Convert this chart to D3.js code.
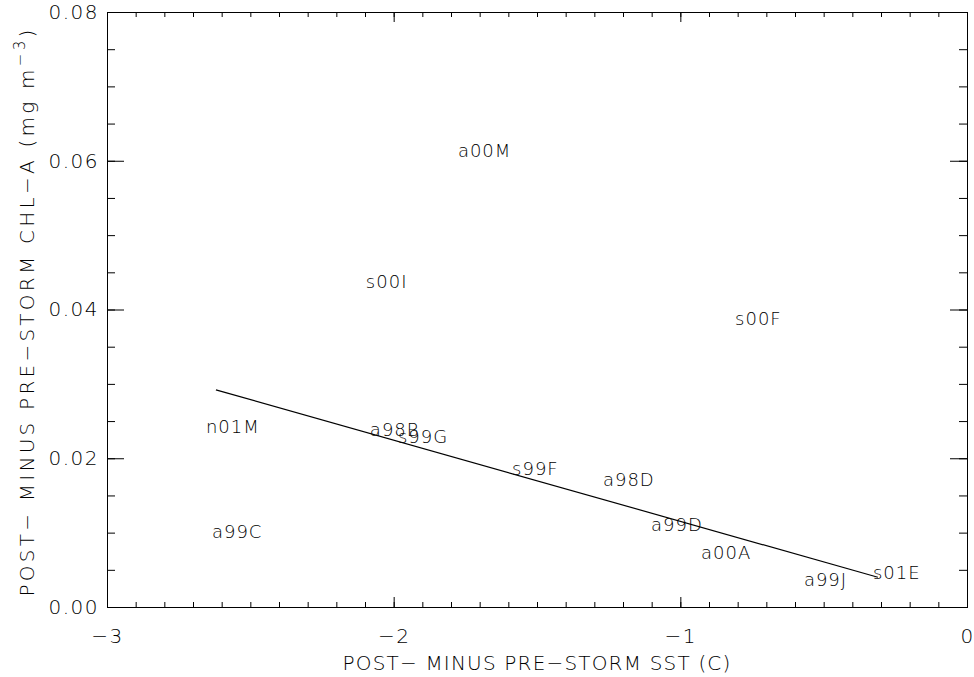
<!DOCTYPE html>
<html>
<head>
<meta charset="utf-8">
<script src="https://cdn.jsdelivr.net/npm/d3@7"></script>
<style>
  html, body { margin: 0; padding: 0; background: #fff; }
  svg { display: block; }
  text { font-family: "DejaVu Sans", "Liberation Sans", sans-serif; font-weight: 200; fill: #000; }
</style>
</head>
<body>
<div id="chart"></div>
<script>
// ---- data ----
const stormNames = ["a00M", "s00I", "s00F", "n01M", "a98B", "s99G", "a99C", "s99F", "a98D", "a99D", "a00A", "a99J", "s01E"];
const sstChange  = [-1.776, -2.097, -0.809, -2.655, -2.083, -1.985, -2.634, -1.587, -1.270, -1.102, -0.928, -0.569, -0.328];
const chlChange  = [0.0605, 0.0429, 0.0379, 0.0234, 0.0230, 0.0221, 0.0093, 0.0178, 0.0163, 0.0102, 0.0065, 0.0028, 0.0038];
const fitLineX   = [-2.620, -0.311];
const fitLineY   = [0.0292, 0.0040];
const xMajorTicks = [-3, -2, -1, 0];
const yMajorTicks = [0, 0.02, 0.04, 0.06, 0.08];

// ---- layout ----
const W = 974, H = 677;
const mLeft = 107, mRight = 967, mTop = 12, mBottom = 607;

const svg = d3.select("#chart").append("svg").attr("width", W).attr("height", H);

const x = d3.scaleLinear().domain([-3, 0]).range([mLeft, mRight]);
const y = d3.scaleLinear().domain([0, 0.08]).range([mBottom, mTop]);

const xMinor = d3.range(-3, 0.0001, 0.1).map(v => +v.toFixed(2));
const yMinor = d3.range(0, 0.08001, 0.005).map(v => +v.toFixed(4));

function styleAxis(g) {
  g.selectAll("path.domain").attr("stroke", "#000").attr("stroke-width", 1);
  g.selectAll(".tick line").attr("stroke", "#000").attr("stroke-width", 1);
  g.selectAll("text").attr("font-size", 20).attr("font-family", null).attr("letter-spacing", 1.5);
}

// bottom axis
svg.append("g").attr("transform", `translate(0,${mBottom})`)
  .call(d3.axisBottom(x).tickValues(xMinor).tickSize(-5).tickFormat(""))
  .call(styleAxis);
svg.append("g").attr("transform", `translate(0,${mBottom})`)
  .call(d3.axisBottom(x).tickValues(xMajorTicks).tickSize(-10).tickPadding(22).tickFormat(d3.format("d")))
  .call(styleAxis);
// top axis
svg.append("g").attr("transform", `translate(0,${mTop})`)
  .call(d3.axisTop(x).tickValues(xMinor).tickSize(-5).tickFormat(""))
  .call(styleAxis);
svg.append("g").attr("transform", `translate(0,${mTop})`)
  .call(d3.axisTop(x).tickValues(xMajorTicks).tickSize(-10).tickFormat(""))
  .call(styleAxis);
// left axis
svg.append("g").attr("transform", `translate(${mLeft},0)`)
  .call(d3.axisLeft(y).tickValues(yMinor).tickSize(-8).tickFormat(""))
  .call(styleAxis);
const yAxisG = svg.append("g").attr("transform", `translate(${mLeft},0)`)
  .call(d3.axisLeft(y).tickValues(yMajorTicks).tickSize(-17).tickPadding(8).tickFormat(d3.format(".2f")))
  .call(styleAxis);
// right axis
svg.append("g").attr("transform", `translate(${mRight},0)`)
  .call(d3.axisRight(y).tickValues(yMinor).tickSize(-8).tickFormat(""))
  .call(styleAxis);
svg.append("g").attr("transform", `translate(${mRight},0)`)
  .call(d3.axisRight(y).tickValues(yMajorTicks).tickSize(-17).tickFormat(""))
  .call(styleAxis);

// fit a text element to a target width by adjusting letter spacing
function fitWidth(sel, target) {
  const node = sel.node();
  const n = node.textContent.length;
  const w = node.getComputedTextLength();
  sel.attr("letter-spacing", (target - w) / n);
}

// axis titles
const xt = svg.append("text")
  .attr("x", (mLeft + mRight) / 2).attr("y", 670)
  .attr("text-anchor", "middle").attr("font-size", 20)
  .text("POST\u2212 MINUS PRE\u2212STORM SST (C)");
fitWidth(xt, 389);

const yt = svg.append("text")
  .attr("transform", `translate(34,${(mTop + mBottom) / 2 + 2}) rotate(-90)`)
  .attr("text-anchor", "middle").attr("font-size", 20);
yt.append("tspan").text("POST\u2212 MINUS PRE\u2212STORM CHL\u2212A (mg m");
yt.append("tspan").attr("dy", -9).attr("font-size", 15).text("\u22123");
yt.append("tspan").attr("dy", 9).text(")");
fitWidth(yt, 570);

// regression line
const lineData = fitLineX.map((v, i) => [v, fitLineY[i]]);
svg.append("path")
  .datum(lineData)
  .attr("fill", "none").attr("stroke", "#000").attr("stroke-width", 1.2)
  .attr("d", d3.line().x(d => x(d[0])).y(d => y(d[1])));

// storm labels
svg.append("g").selectAll("text")
  .data(stormNames.map((n, i) => ({ n, sx: sstChange[i], cy: chlChange[i] })))
  .join("text")
  .attr("x", d => x(d.sx)).attr("y", d => y(d.cy))
  .attr("font-size", 18).attr("letter-spacing", 1)
  .text(d => d.n);
</script>
</body>
</html>
